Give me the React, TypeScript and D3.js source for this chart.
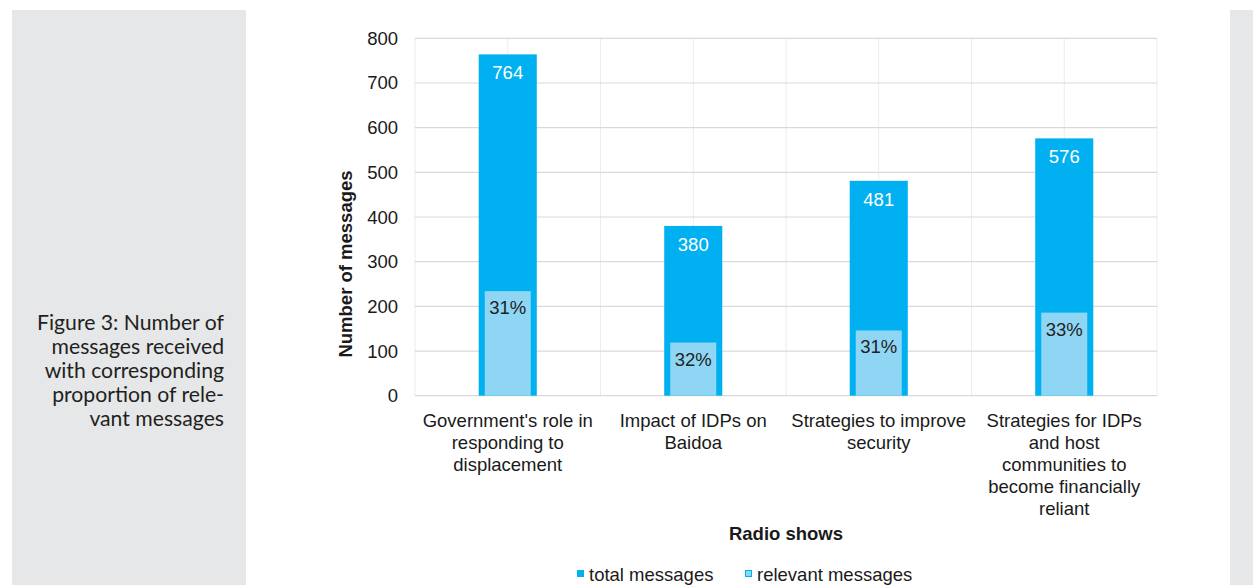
import React from "react";
import * as d3 from "d3";

const categories = [
  "Government's role in responding to displacement",
  "Impact of IDPs on Baidoa",
  "Strategies to improve security",
  "Strategies for IDPs and host communities to become financially reliant",
];
const categoryLines = [
  ["Government's role in", "responding to", "displacement"],
  ["Impact of IDPs on", "Baidoa"],
  ["Strategies to improve", "security"],
  ["Strategies for IDPs", "and host", "communities to", "become financially", "reliant"],
];
const totalMessages = [764, 380, 481, 576];
const relevantMessages = [234, 119, 146, 186];
const relevantLabels = ["31%", "32%", "31%", "33%"];
const yTicks = [0, 100, 200, 300, 400, 500, 600, 700, 800];
const captionLines = [
  "Figure 3: Number of",
  "messages received",
  "with corresponding",
  "proportion of rele-",
  "vant messages",
];

const W = 1253;
const H = 585;
const plot = { left: 415, right: 1157, top: 38.3, bottom: 395.7 };
const FONT = "'Liberation Sans', Arial, sans-serif";
const FS = 18.5;
const DARK = "#00b0f0";
const LIGHT = "#8fd6f4";

export default function App() {
  const x = d3.scaleBand<string>().domain(categories).range([plot.left, plot.right]).padding(0);
  const y = d3.scaleLinear().domain([0, 800]).range([plot.bottom, plot.top]);
  const bw = x.bandwidth();
  const outerW = bw * 0.313;
  const innerW = bw * 0.248;
  const vLines = d3.range(0, categories.length * 2 + 1).map((i) => plot.left + (i * bw) / 2);

  return (
    <div style={{ position: "absolute", left: 0, top: 0 }}>
      <svg width={W} height={H} style={{ display: "block" }}>
        <rect x={0} y={0} width={W} height={H} fill="#ffffff" />
        <rect x={12} y={10} width={234} height={H - 10} fill="#e6e7e8" />
        <rect x={1230} y={10} width={W - 1230} height={H - 10} fill="#e6e7e8" />
        {captionLines.map((t, i) => (
          <text
            key={i}
            x={224}
            y={330 + i * 24}
            textAnchor="end"
            fontFamily="Lato, sans-serif"
            fontSize={21.2}
            fill="#231f20"
          >
            {t}
          </text>
        ))}
        {/* grid */}
        {vLines.map((vx, i) => (
          <line key={"v" + i} x1={vx} x2={vx} y1={plot.top} y2={plot.bottom} stroke="#ececec" strokeWidth={1} />
        ))}
        {yTicks.map((t) => (
          <line key={"h" + t} x1={plot.left} x2={plot.right} y1={y(t)} y2={y(t)} stroke="#d9d9d9" strokeWidth={1.2} />
        ))}
        {/* bars */}
        {categories.map((c, i) => {
          const cx = (x(c) as number) + bw / 2;
          return (
            <g key={c}>
              <rect x={cx - outerW / 2} y={y(totalMessages[i])} width={outerW} height={plot.bottom - y(totalMessages[i])} fill={DARK} />
              <rect x={cx - innerW / 2} y={y(relevantMessages[i])} width={innerW} height={plot.bottom - y(relevantMessages[i])} fill={LIGHT} />
              <text x={cx} y={y(totalMessages[i]) + 25} textAnchor="middle" fontFamily={FONT} fontSize={FS} fill="#ffffff">
                {totalMessages[i]}
              </text>
              <text x={cx} y={y(relevantMessages[i]) + 23} textAnchor="middle" fontFamily={FONT} fontSize={FS} fill="#222222">
                {relevantLabels[i]}
              </text>
              {categoryLines[i].map((ln, j) => (
                <text key={j} x={cx} y={427 + j * 22} textAnchor="middle" fontFamily={FONT} fontSize={FS} fill="#1a1a1a">
                  {ln}
                </text>
              ))}
            </g>
          );
        })}
        {/* y tick labels */}
        {yTicks.map((t) => (
          <text key={"t" + t} x={398} y={y(t) + 6.5} textAnchor="end" fontFamily={FONT} fontSize={FS} fill="#1a1a1a">
            {t}
          </text>
        ))}
        <text
          transform={`translate(351.5,264) rotate(-90)`}
          textAnchor="middle"
          fontFamily={FONT}
          fontSize={FS}
          fontWeight="bold"
          fill="#1a1a1a"
        >
          Number of messages
        </text>
        <text x={786} y={540} textAnchor="middle" fontFamily={FONT} fontSize={FS} fontWeight="bold" fill="#1a1a1a">
          Radio shows
        </text>
        {/* legend */}
        <rect x={577} y={570} width={7} height={7} fill={DARK} />
        <text x={589} y={581} fontFamily={FONT} fontSize={FS} fill="#1a1a1a">total messages</text>
        <rect x={745.5} y={570.5} width={6} height={6} fill={LIGHT} stroke={DARK} strokeWidth={1} />
        <text x={757} y={581} fontFamily={FONT} fontSize={FS} fill="#1a1a1a">relevant messages</text>
      </svg>
    </div>
  );
}
